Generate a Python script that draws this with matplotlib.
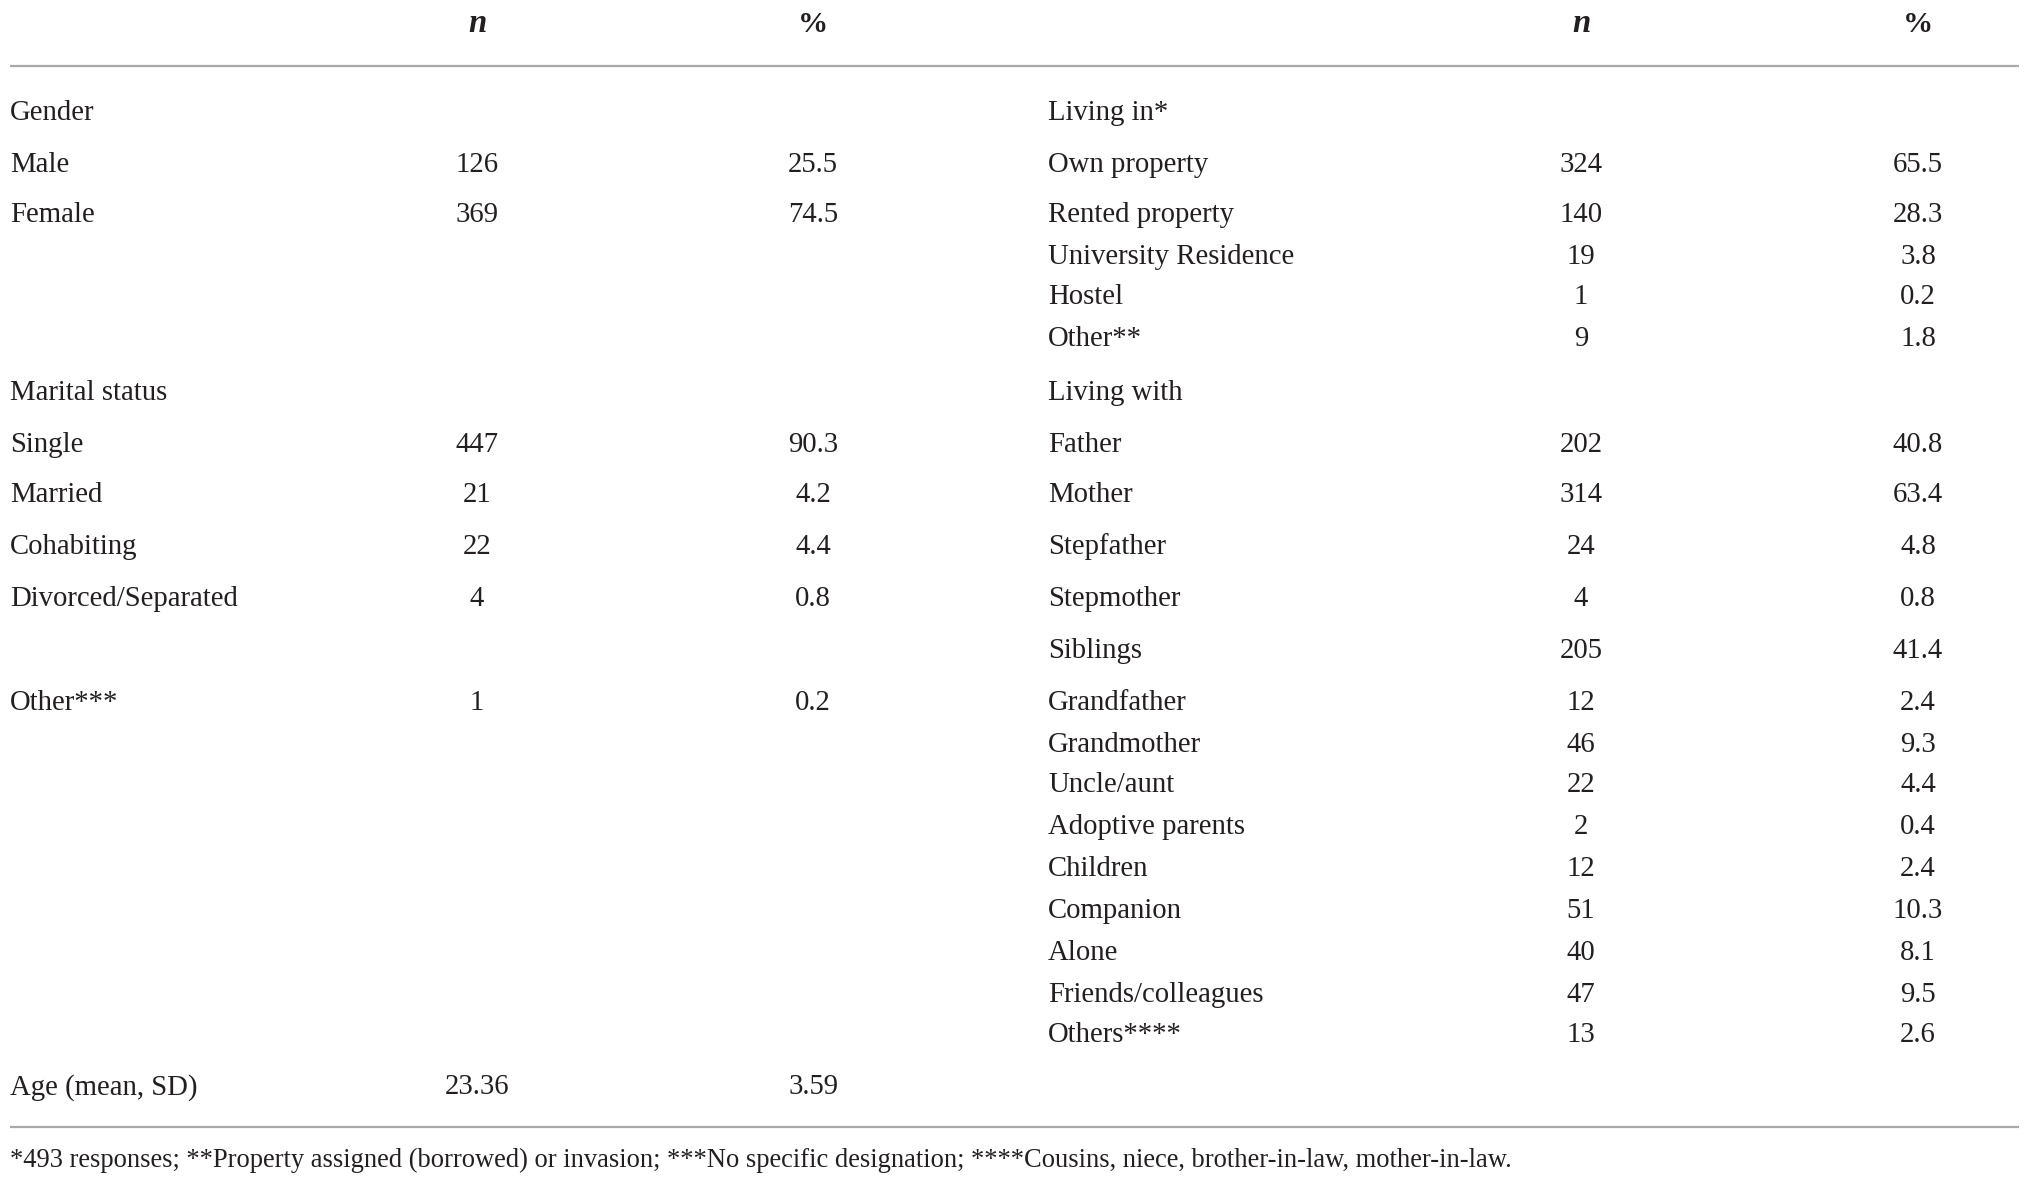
import matplotlib
matplotlib.use("Agg")
import matplotlib.pyplot as plt

W, H = 2029, 1186
FONT = "Liberation Serif"

# ---- data ----
left_labels = ["Gender", "Male", "Female", "Marital status", "Single", "Married",
               "Cohabiting", "Divorced/Separated", "Other***", "Age (mean, SD)"]
left_n = ["", "126", "369", "", "447", "21", "22", "4", "1", "23.36"]
left_pct = ["", "25.5", "74.5", "", "90.3", "4.2", "4.4", "0.8", "0.2", "3.59"]
left_rows_y = [111, 163, 214, 391, 443, 494, 546, 598, 701, 1086]

right_labels = ["Living in*", "Own property", "Rented property", "University Residence",
                "Hostel", "Other**", "Living with", "Father", "Mother", "Stepfather",
                "Stepmother", "Siblings", "Grandfather", "Grandmother", "Uncle/aunt",
                "Adoptive parents", "Children", "Companion", "Alone",
                "Friends/colleagues", "Others****"]
right_n = ["", "324", "140", "19", "1", "9", "", "202", "314", "24", "4", "205",
           "12", "46", "22", "2", "12", "51", "40", "47", "13"]
right_pct = ["", "65.5", "28.3", "3.8", "0.2", "1.8", "", "40.8", "63.4", "4.8",
             "0.8", "41.4", "2.4", "9.3", "4.4", "0.4", "2.4", "10.3", "8.1", "9.5", "2.6"]
right_rows_y = [111, 163, 214, 255, 296, 338, 391, 443, 494, 546, 598, 650, 701,
                743, 784, 826, 867, 909, 951, 993, 1034]

header_n = "n"
header_pct = "%"
footnote = ("*493 responses; **Property assigned (borrowed) or invasion; "
            "***No specific designation; ****Cousins, niece, brother-in-law, mother-in-law.")

# ---- layout ----
fig = plt.figure(figsize=(W / 100, H / 100), dpi=100)
ax = fig.add_axes([0, 0, 1, 1])
ax.set_xlim(0, W)
ax.set_ylim(H, 0)
ax.axis("off")

FS = 20.7
col = "#231f20"
x_lab_l, x_n_l, x_p_l = 10, 477, 813
x_lab_r, x_n_r, x_p_r = 1048, 1581, 1918
CAPOFF = 8.5

# headers
for xn, xp in [(x_n_l, x_p_l), (x_n_r, x_p_r)]:
    ax.text(xn, 23 + CAPOFF + 1, header_n, ha="center", va="baseline", fontsize=FS + 3,
            fontweight="bold", fontstyle="italic", family=FONT, color=col)
    ax.text(xp, 23 + CAPOFF + 1, header_pct, ha="center", va="baseline", fontsize=FS + 1,
            fontweight="bold", family=FONT, color=col)

# rules
ax.plot([10, 2019], [66, 66], color="#a8a8a8", lw=1.6, solid_capstyle="butt")
ax.plot([10, 2019], [1127, 1127], color="#a8a8a8", lw=1.6, solid_capstyle="butt")

for labels, ns, ps, ys, xl, xn, xp in [
        (left_labels, left_n, left_pct, left_rows_y, x_lab_l, x_n_l, x_p_l),
        (right_labels, right_n, right_pct, right_rows_y, x_lab_r, x_n_r, x_p_r)]:
    for lab, nv, pv, y in zip(labels, ns, ps, ys):
        yb = y + CAPOFF
        ax.text(xl, yb, lab, ha="left", va="baseline", fontsize=FS, family=FONT, color=col)
        if nv:
            ax.text(xn, yb, nv, ha="center", va="baseline", fontsize=FS, family=FONT, color=col)
        if pv:
            ax.text(xp, yb, pv, ha="center", va="baseline", fontsize=FS, family=FONT, color=col)

ax.text(10, 1167, footnote, ha="left", va="baseline", fontsize=19.1, family=FONT, color=col)

fig.savefig("out.png", dpi=100, facecolor="white")
